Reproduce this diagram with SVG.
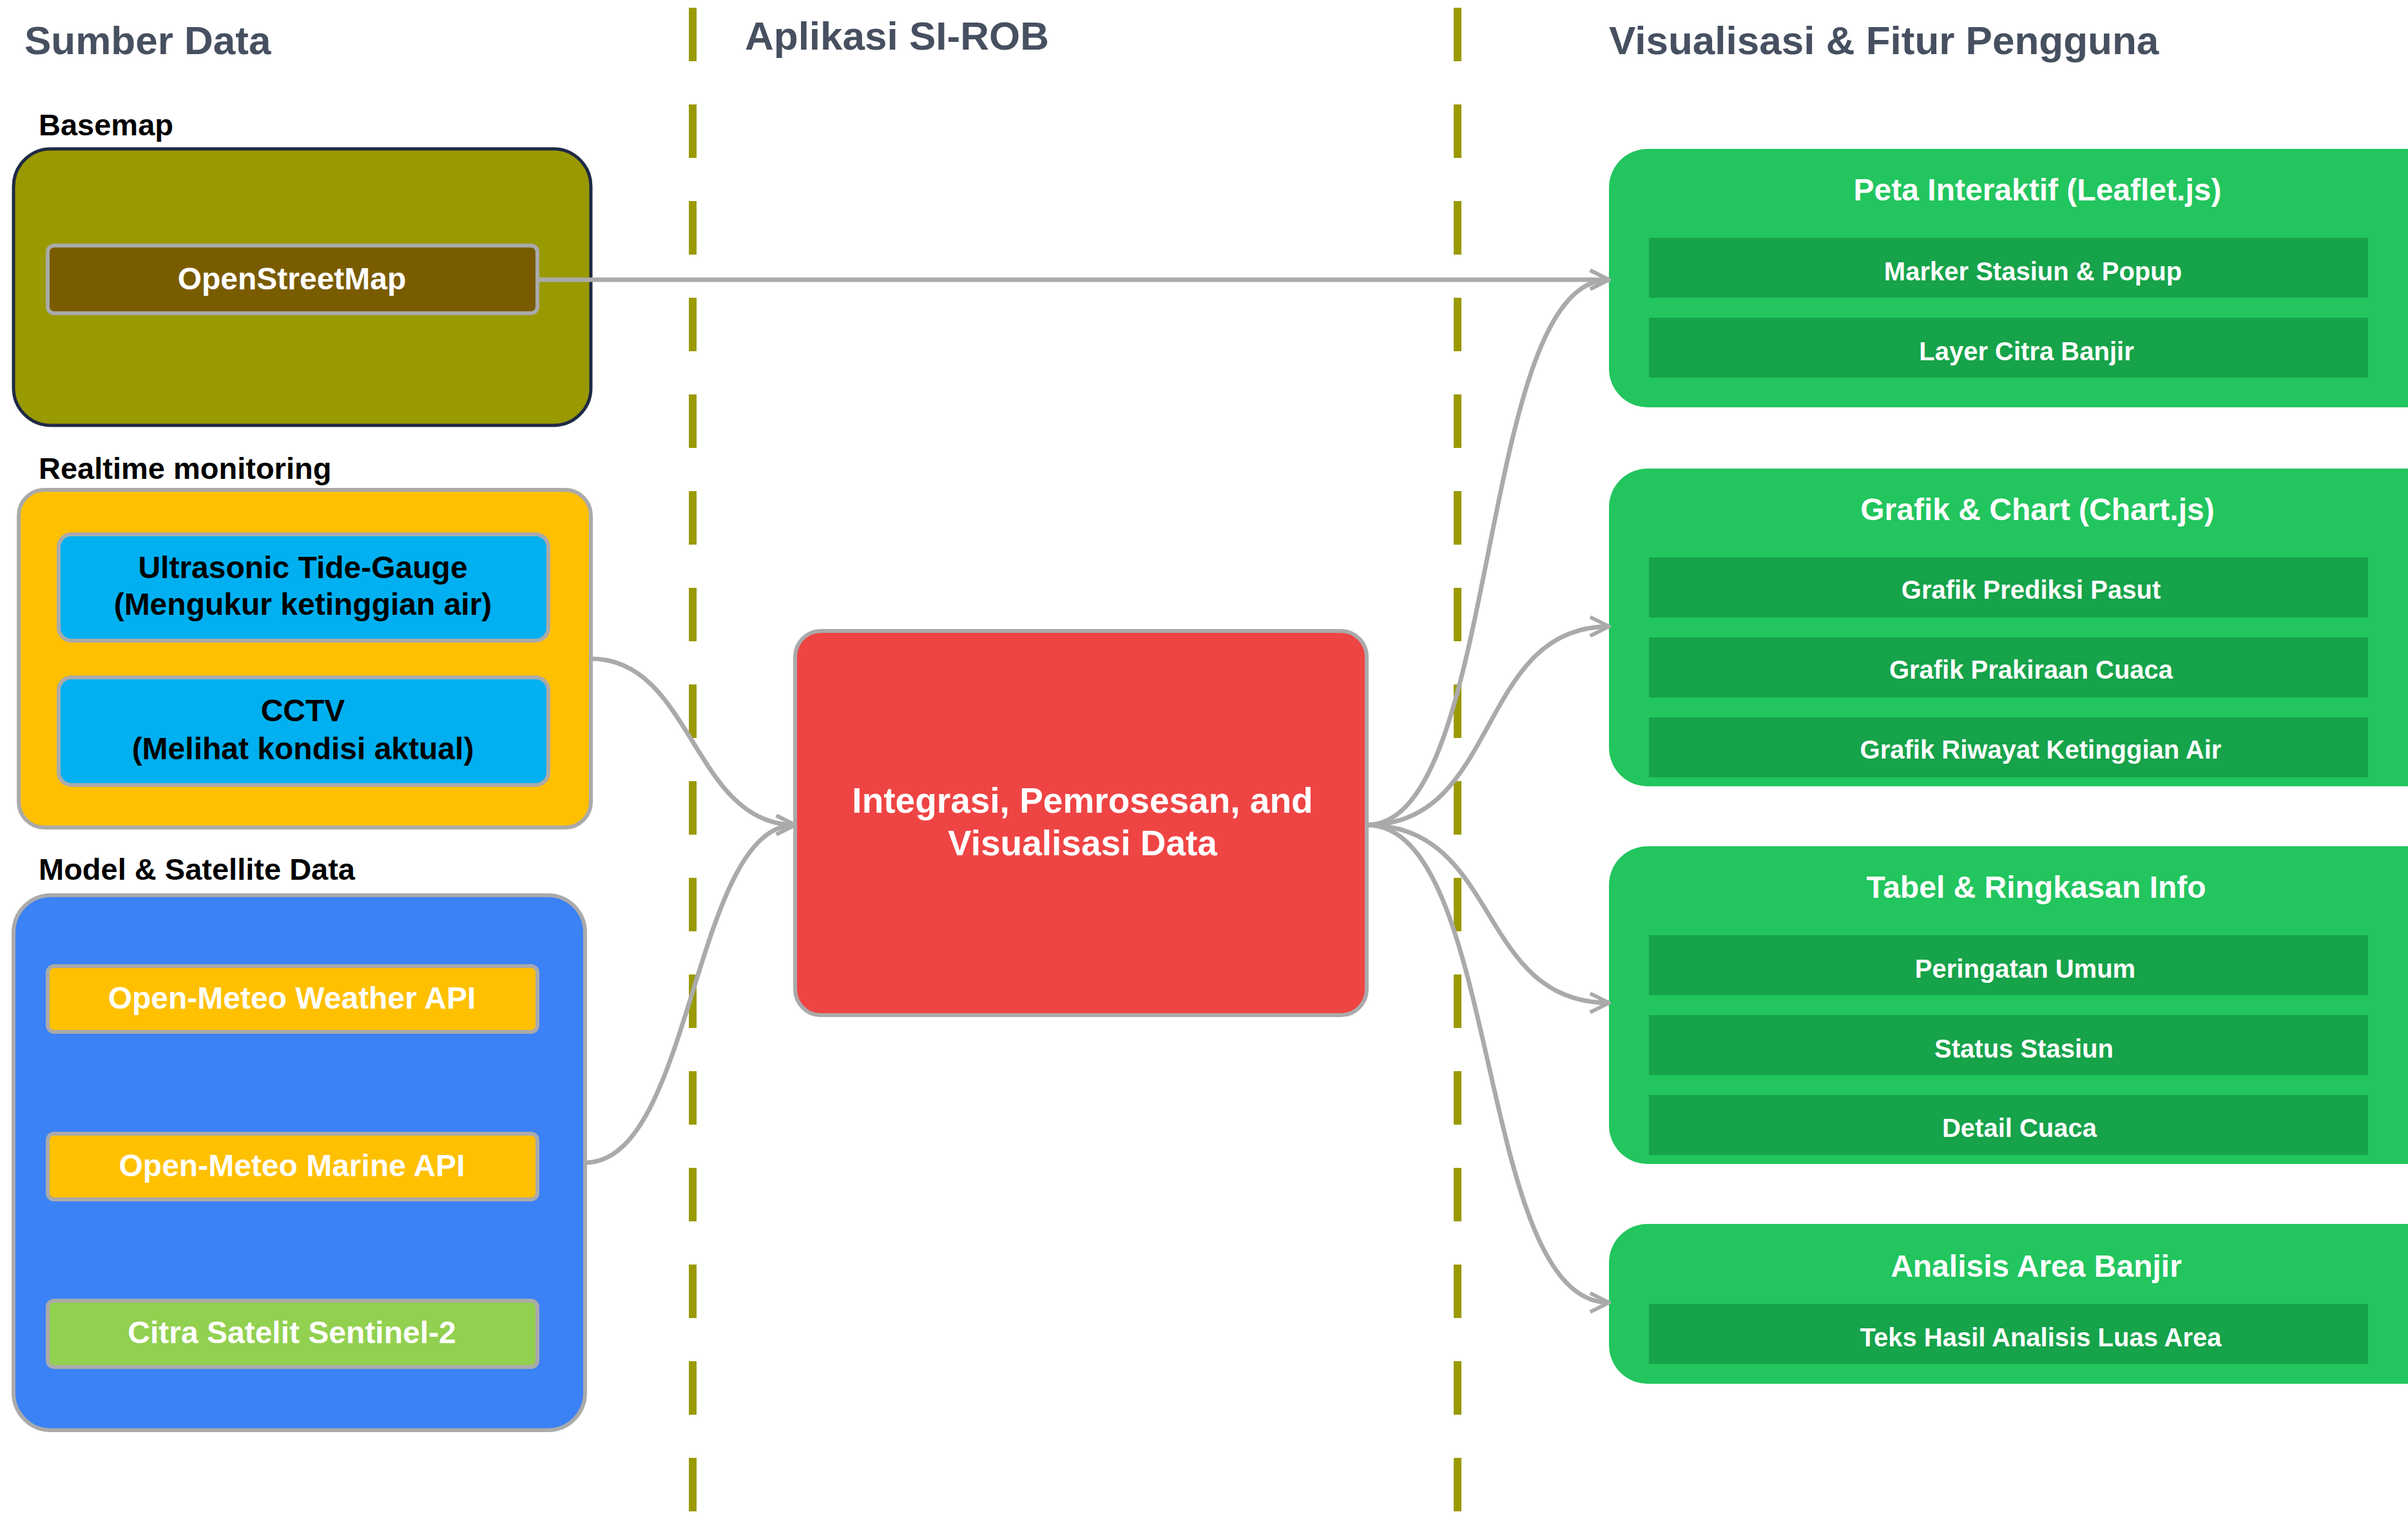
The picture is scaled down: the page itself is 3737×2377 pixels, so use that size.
<svg xmlns="http://www.w3.org/2000/svg" width="3737" height="2377" viewBox="0 0 3737 2377">
<style>
text{font-family:"Liberation Sans",Arial,sans-serif;font-weight:bold}
.h{font-size:62px;fill:#475060}
.lab{font-size:47px;fill:#000}
.bt{font-size:48px;text-anchor:middle;dominant-baseline:middle}
.ct{font-size:55px;text-anchor:middle;dominant-baseline:middle;fill:#fff}
.gt{font-size:48px;fill:#fff;text-anchor:middle;dominant-baseline:middle}
.it{font-size:40px;fill:#fff;text-anchor:middle;dominant-baseline:middle}
.grp{fill:#22c55e}
.item{fill:#16a34a}
.sb{stroke:#aaaaaa;stroke-width:6}
.c{fill:none;stroke:#aaaaaa;stroke-width:7;marker-end:url(#a)}
.dash{stroke:#9a9a00;stroke-width:12;stroke-dasharray:83 67}
</style>
<defs><marker id="a" viewBox="0 0 12 12" refX="11" refY="6" markerWidth="5" markerHeight="5" orient="auto" markerUnits="strokeWidth"><polyline points="1,1 11,6 1,11" fill="none" stroke="#aaaaaa" stroke-width="2"/></marker></defs>
<rect width="3737" height="2377" fill="#fff"/>
<line class="dash" x1="1075" y1="12" x2="1075" y2="2371"/>
<line class="dash" x1="2262" y1="12" x2="2262" y2="2371"/>
<text class="h" x="38" y="84">Sumber Data</text>
<text class="h" x="1156" y="77">Aplikasi SI-ROB</text>
<text class="h" x="2497" y="84">Visualisasi &amp; Fitur Pengguna</text>
<g id="basemap"><text class="lab" x="60" y="210">Basemap</text>
<rect x="21" y="231" width="896" height="429" rx="58" fill="#999900" stroke="#1e2a44" stroke-width="5"/></g>
<g id="osm"><rect class="sb" x="74" y="381" width="760" height="105" rx="10" fill="#7a5c00"/><text class="bt" x="453" y="436" fill="#fff">OpenStreetMap</text></g>
<g id="realtime"><text class="lab" x="60" y="743">Realtime monitoring</text>
<rect class="sb" x="29" y="760" width="888" height="524" rx="40" fill="#ffc000"/></g>
<g id="tide"><rect class="sb" x="91" y="829" width="760" height="165" rx="20" fill="#00b0f0"/><text class="bt" x="470" y="884" fill="#000">Ultrasonic Tide-Gauge</text><text class="bt" x="470" y="941" fill="#000">(Mengukur ketinggian air)</text></g>
<g id="cctv"><rect class="sb" x="91" y="1051" width="760" height="167" rx="20" fill="#00b0f0"/><text class="bt" x="470" y="1106" fill="#000">CCTV</text><text class="bt" x="470" y="1165" fill="#000">(Melihat kondisi aktual)</text></g>
<g id="model"><text class="lab" x="60" y="1365">Model &amp; Satellite Data</text>
<rect class="sb" x="21" y="1389" width="887" height="830" rx="58" fill="#3b82f6"/></g>
<g id="weather"><rect class="sb" x="74" y="1499" width="760" height="102" rx="10" fill="#ffc000"/><text class="bt" x="453" y="1552" fill="#fff">Open-Meteo Weather API</text></g>
<g id="marine"><rect class="sb" x="74" y="1759" width="760" height="102" rx="10" fill="#ffc000"/><text class="bt" x="453" y="1812" fill="#fff">Open-Meteo Marine API</text></g>
<g id="sentinel"><rect class="sb" x="74" y="2018" width="760" height="103" rx="10" fill="#92d050"/><text class="bt" x="453" y="2071" fill="#fff">Citra Satelit Sentinel-2</text></g>
<g id="center"><rect class="sb" x="1234" y="979" width="887" height="596" rx="40" fill="#ef4444"/><text class="ct" x="1680" y="1246">Integrasi, Pemrosesan, and</text><text class="ct" x="1680" y="1312">Visualisasi Data</text></g>
<g id="peta"><rect class="grp" x="2497" y="231" width="1300" height="401" rx="60"/><text class="gt" x="3162" y="298">Peta Interaktif (Leaflet.js)</text>
<rect class="item" x="2559" y="369" width="1116" height="93"/><text class="it" x="3155" y="424">Marker Stasiun &amp; Popup</text>
<rect class="item" x="2559" y="493" width="1116" height="93"/><text class="it" x="3145" y="548">Layer Citra Banjir</text></g>
<g id="grafik"><rect class="grp" x="2497" y="727" width="1300" height="493" rx="60"/><text class="gt" x="3162" y="794">Grafik &amp; Chart (Chart.js)</text>
<rect class="item" x="2559" y="865" width="1116" height="93"/><text class="it" x="3152" y="918">Grafik Prediksi Pasut</text>
<rect class="item" x="2559" y="989" width="1116" height="93"/><text class="it" x="3152" y="1042">Grafik Prakiraan Cuaca</text>
<rect class="item" x="2559" y="1113" width="1116" height="93"/><text class="it" x="3167" y="1166">Grafik Riwayat Ketinggian Air</text></g>
<g id="tabel"><rect class="grp" x="2497" y="1313" width="1300" height="493" rx="60"/><text class="gt" x="3160" y="1380">Tabel &amp; Ringkasan Info</text>
<rect class="item" x="2559" y="1451" width="1116" height="93"/><text class="it" x="3143" y="1506">Peringatan Umum</text>
<rect class="item" x="2559" y="1575" width="1116" height="93"/><text class="it" x="3141" y="1630">Status Stasiun</text>
<rect class="item" x="2559" y="1699" width="1116" height="93"/><text class="it" x="3134" y="1753">Detail Cuaca</text></g>
<g id="analisis"><rect class="grp" x="2497" y="1899" width="1300" height="248" rx="60"/><text class="gt" x="3160" y="1968">Analisis Area Banjir</text>
<rect class="item" x="2559" y="2023" width="1116" height="93"/><text class="it" x="3167" y="2078">Teks Hasil Analisis Luas Area</text></g>
<g id="connectors">
<path class="c" d="M834,434 L2497,434"/>
<path class="c" d="M917,1022 C1075,1022 1075,1280 1234,1280"/>
<path class="c" d="M908,1804 C1075,1804 1075,1280 1234,1280"/>
<path class="c" d="M2121,1280 C2330,1280 2290,434 2497,434"/>
<path class="c" d="M2121,1280 C2330,1280 2290,972 2497,972"/>
<path class="c" d="M2121,1280 C2330,1280 2290,1556 2497,1556"/>
<path class="c" d="M2121,1280 C2330,1280 2290,2021 2497,2021"/>
</g>
</svg>
